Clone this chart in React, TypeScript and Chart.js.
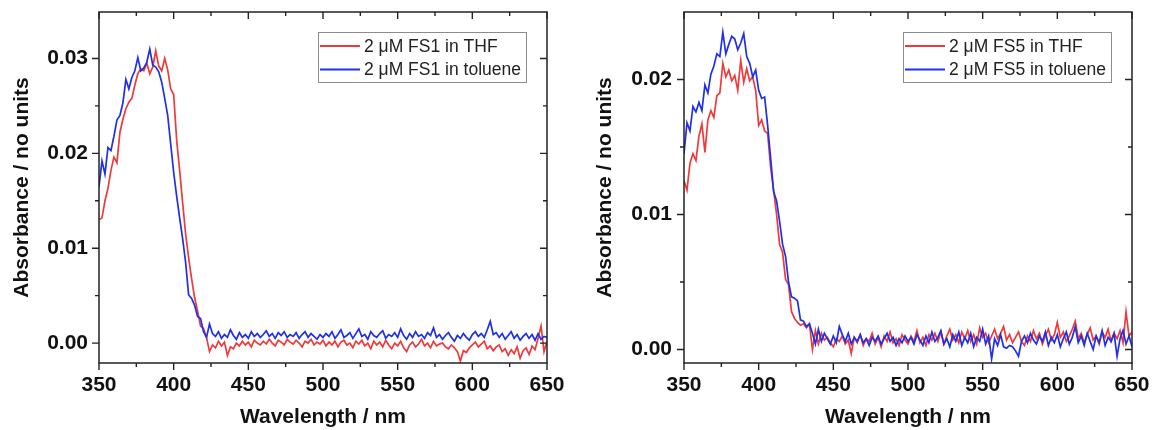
import React, { useEffect, useRef } from 'react';
import { Chart, registerables } from 'chart.js';

Chart.register(...registerables);

const wavelengths = [
  350, 352, 354, 356, 358, 360, 362, 364, 366, 368, 370, 372, 374, 376, 378, 380, 382, 384, 386, 388,
  390, 392, 394, 396, 398, 400, 402, 404, 406, 408, 410, 412, 414, 416, 418, 420, 422, 424, 426, 428,
  430, 432, 434, 436, 438, 440, 442, 444, 446, 448, 450, 452, 454, 456, 458, 460, 462, 464, 466, 468,
  470, 472, 474, 476, 478, 480, 482, 484, 486, 488, 490, 492, 494, 496, 498, 500, 502, 504, 506, 508,
  510, 512, 514, 516, 518, 520, 522, 524, 526, 528, 530, 532, 534, 536, 538, 540, 542, 544, 546, 548,
  550, 552, 554, 556, 558, 560, 562, 564, 566, 568, 570, 572, 574, 576, 578, 580, 582, 584, 586, 588,
  590, 592, 594, 596, 598, 600, 602, 604, 606, 608, 610, 612, 614, 616, 618, 620, 622, 624, 626, 628,
  630, 632, 634, 636, 638, 640, 642, 644, 646, 648, 650,
];

const fs1Thf = [
  0.0130, 0.0132, 0.0150, 0.0163, 0.0182, 0.0196, 0.0190, 0.0222, 0.0236, 0.0247,
  0.0254, 0.0258, 0.0272, 0.0284, 0.0289, 0.0287, 0.0295, 0.0284, 0.0291, 0.0308,
  0.0292, 0.0287, 0.0300, 0.0288, 0.0268, 0.0262, 0.0214, 0.0182, 0.0148, 0.0115,
  0.0090, 0.0068, 0.0048, 0.0034, 0.0018, 0.0015, 0.0006, -0.0009, -0.0002, -0.0005,
  0.0002, -0.0003, 0.0001, -0.0013, -0.0004,
  -0.0006, 0.0000, -0.0003, 0.0002, -0.0002, 0.0001, -0.0004, 0.0003, 0.0000, -0.0002,
  0.0002, -0.0001, 0.0004, 0.0000, -0.0003, 0.0003, 0.0001, -0.0002, 0.0004, 0.0001,
  -0.0001, 0.0003, 0.0000, -0.0004, 0.0002, 0.0000, 0.0004, -0.0002, 0.0001, -0.0001,
  0.0003, -0.0003, 0.0001, -0.0002, 0.0002, -0.0004, 0.0001, 0.0003, -0.0002, 0.0000,
  -0.0005, 0.0002, -0.0001, 0.0003, -0.0003, 0.0000, -0.0006, 0.0002, -0.0002, 0.0001,
  -0.0004, 0.0003, -0.0002, -0.0006, 0.0000, -0.0003, 0.0002, -0.0005, -0.0009, -0.0002,
  0.0001, -0.0004, -0.0001, 0.0004, -0.0003, 0.0000, -0.0005, 0.0002, -0.0003, -0.0001,
  0.0000, -0.0004, -0.0006, -0.0002, -0.0005, -0.0009, -0.0019, -0.0008, -0.0010, -0.0005,
  -0.0002, 0.0001, -0.0004, -0.0001, 0.0002, -0.0006, -0.0003, -0.0008, -0.0004, -0.0002,
  -0.0009, -0.0006, -0.0013, -0.0007, -0.0011, -0.0004, -0.0016, -0.0008, -0.0005, -0.0012,
  -0.0003, -0.0007, 0.0005, 0.0018, -0.0009, 0.0002,
];

const fs1Toluene = [
  0.0165, 0.0192, 0.0178, 0.0206, 0.0203, 0.0218, 0.0235, 0.0240, 0.0253, 0.0278,
  0.0268, 0.0280, 0.0287, 0.0301, 0.0287, 0.0290, 0.0296, 0.0310, 0.0293, 0.0291,
  0.0286, 0.0275, 0.0258, 0.0240, 0.0210, 0.0180, 0.0155, 0.0132, 0.0110, 0.0085,
  0.0051, 0.0047, 0.0040, 0.0028, 0.0026, 0.0012, 0.0006, 0.0020, 0.0010, 0.0007,
  0.0012, 0.0005, 0.0009, 0.0006, 0.0014,
  0.0008, 0.0004, 0.0011, 0.0006, 0.0009, 0.0005, 0.0012, 0.0007, 0.0010, 0.0006,
  0.0009, 0.0013, 0.0007, 0.0010, 0.0005, 0.0011, 0.0008, 0.0012, 0.0006, 0.0009,
  0.0007, 0.0011, 0.0005, 0.0009, 0.0012, 0.0006, 0.0010, 0.0007, 0.0004, 0.0009,
  0.0006, 0.0010, 0.0007, 0.0012, 0.0005, 0.0009, 0.0014, 0.0006, 0.0008, 0.0011,
  0.0005, 0.0010, 0.0015, 0.0007, 0.0009, 0.0004, 0.0012, 0.0008, 0.0006, 0.0010,
  0.0013, 0.0005, 0.0009, 0.0007, 0.0011, 0.0006, 0.0015, 0.0008, 0.0004, 0.0010,
  0.0006, 0.0012, 0.0007, 0.0009, 0.0005, 0.0011, 0.0008, 0.0016, 0.0006, 0.0009,
  0.0004, 0.0008, 0.0011, 0.0006, 0.0002, 0.0008, 0.0005, 0.0010, 0.0006, 0.0003,
  0.0009, 0.0012, 0.0007, 0.0010, 0.0006, 0.0014, 0.0023, 0.0009, 0.0011, 0.0006,
  0.0010, 0.0004, 0.0008, 0.0012, 0.0005, 0.0009, 0.0003, 0.0007, 0.0010, 0.0005,
  0.0009, 0.0003, 0.0010, 0.0004, 0.0007, 0.0006,
];

const fs5Thf = [
  0.0125, 0.0118, 0.0138, 0.0145, 0.0140, 0.0158, 0.0167, 0.0146, 0.0170, 0.0177,
  0.0172, 0.0188, 0.0190, 0.0212, 0.0202, 0.0207, 0.0199, 0.0203, 0.0192, 0.0214,
  0.0198, 0.0208, 0.0199, 0.0202, 0.0192, 0.0166, 0.0170, 0.0162, 0.0160, 0.0135,
  0.0118, 0.0100, 0.0078, 0.0072, 0.0052, 0.0048, 0.0028, 0.0023, 0.0020, 0.0018,
  0.0019, 0.0016, 0.0019, 0.0000, 0.0014,
  0.0004, 0.0012, 0.0007, 0.0009, 0.0005, 0.0002, 0.0008, 0.0006, 0.0010, 0.0004,
  0.0007, -0.0003, 0.0009, 0.0005, 0.0011, 0.0003, 0.0008, 0.0006, 0.0012, 0.0004,
  0.0009, 0.0002, 0.0010, 0.0006, 0.0013, 0.0005, 0.0008, 0.0003, 0.0011, 0.0007,
  0.0004, 0.0010, 0.0006, 0.0014, 0.0005, 0.0009, 0.0003, 0.0011, 0.0007, 0.0012,
  0.0006, 0.0013, 0.0004, 0.0010, 0.0015, 0.0007, 0.0011, 0.0005, 0.0013, 0.0008,
  0.0014, 0.0006, 0.0011, 0.0004, 0.0016, 0.0009, 0.0012, 0.0005, 0.0010, 0.0015,
  0.0008, 0.0012, 0.0017, 0.0007, 0.0011, 0.0005, 0.0009, 0.0013, 0.0006, 0.0003,
  0.0010, 0.0006, 0.0014, 0.0008, 0.0012, 0.0004, 0.0010, 0.0015, 0.0007, 0.0011,
  0.0020, 0.0009, 0.0013, 0.0006, 0.0010, 0.0015, 0.0021, 0.0008, 0.0012, 0.0005,
  0.0011, 0.0016, 0.0007, 0.0010, 0.0004, 0.0013, 0.0009, 0.0015, 0.0006, 0.0012,
  0.0008, 0.0014, 0.0005, 0.0028, 0.0010, 0.0013,
];

const fs5Toluene = [
  0.0145, 0.0168, 0.0162, 0.0180, 0.0176, 0.0183, 0.0177, 0.0196, 0.0190, 0.0204,
  0.0210, 0.0219, 0.0217, 0.0235, 0.0219, 0.0226, 0.0232, 0.0230, 0.0222, 0.0227,
  0.0234, 0.0217, 0.0212, 0.0202, 0.0207, 0.0192, 0.0186, 0.0187, 0.0166, 0.0142,
  0.0117, 0.0110, 0.0095, 0.0078, 0.0069, 0.0050, 0.0039, 0.0038, 0.0036, 0.0022,
  0.0021, 0.0017, 0.0019, 0.0012, 0.0004,
  0.0015, 0.0006, 0.0012, 0.0008, 0.0004, 0.0010, 0.0005, 0.0017, 0.0011, 0.0006,
  0.0012, 0.0004, 0.0009, 0.0006, 0.0011, 0.0005, 0.0008, 0.0003, 0.0009, 0.0006,
  0.0010, 0.0004, 0.0008, 0.0012, 0.0006, 0.0009, 0.0003, 0.0008, 0.0005, 0.0010,
  0.0006, 0.0009, 0.0004, 0.0011, 0.0007, 0.0003, 0.0010, 0.0005, 0.0013, 0.0006,
  0.0009, 0.0014, 0.0004, 0.0008, 0.0002, 0.0011, 0.0006, 0.0013, 0.0003, 0.0009,
  0.0005, 0.0012, 0.0002, 0.0009, 0.0006, 0.0015, 0.0004, 0.0010, -0.0007, 0.0008,
  0.0003, 0.0011, 0.0002, 0.0001, 0.0003, 0.0002, -0.0001, -0.0005, 0.0006, 0.0010,
  0.0005, 0.0012, 0.0007, 0.0004, 0.0010, 0.0006, 0.0013, 0.0003, 0.0009, 0.0005,
  0.0011, 0.0002, 0.0008, 0.0013, 0.0004, 0.0009, 0.0017, 0.0005, 0.0010, 0.0003,
  0.0012, 0.0006, 0.0000, 0.0010, 0.0005, 0.0014, 0.0003, 0.0009, 0.0006, 0.0012,
  -0.0005, 0.0008, 0.0014, 0.0004, 0.0010, 0.0002,
];

const xMajorTicks = [350, 400, 450, 500, 550, 600, 650];
const xMinorTicks = [375, 425, 475, 525, 575, 625];
const fs1YMajorTicks = [0, 0.01, 0.02, 0.03];
const fs1YMinorTicks = [0.005, 0.015, 0.025];
const fs5YMajorTicks = [0, 0.01, 0.02];
const fs5YMinorTicks = [0.005, 0.015];
const fs1Labels = ['2 \u03bcM FS1 in THF', '2 \u03bcM FS1 in toluene'];
const fs5Labels = ['2 \u03bcM FS5 in THF', '2 \u03bcM FS5 in toluene'];
const seriesColors = ['#ee3a3a', '#1f30e6'];
const xTitle = 'Wavelength / nm';
const yTitle = 'Absorbance / no units';

const FONT = '"Liberation Sans", Arial, Helvetica, sans-serif';

const frameTicksPlugin = {
  id: 'frameTicks',
  afterDatasetsDraw(chart: any, _args: any, opts: any) {
    const { ctx, chartArea: a } = chart;
    const xs = chart.scales.x;
    const ys = chart.scales.y;
    ctx.save();
    ctx.strokeStyle = '#222';
    ctx.lineWidth = 1.4;
    ctx.beginPath();
    const seg = (x1: number, y1: number, x2: number, y2: number) => {
      ctx.moveTo(x1, y1);
      ctx.lineTo(x2, y2);
    };
    const xt: [number, number][] = [
      ...xMajorTicks.map((v) => [v, 7] as [number, number]),
      ...xMinorTicks.map((v) => [v, 4] as [number, number]),
    ];
    for (const [v, len] of xt) {
      const px = xs.getPixelForValue(v);
      seg(px, a.bottom, px, a.bottom + len);
      seg(px, a.top, px, a.top + len);
    }
    const yt: [number, number][] = [
      ...opts.yMajor.map((v: number) => [v, 7] as [number, number]),
      ...opts.yMinor.map((v: number) => [v, 4] as [number, number]),
    ];
    for (const [v, len] of yt) {
      const py = ys.getPixelForValue(v);
      seg(a.left - len, py, a.left, py);
      seg(a.right - len, py, a.right, py);
    }
    ctx.stroke();
    ctx.lineWidth = 1.5;
    ctx.strokeRect(a.left, a.top, a.right - a.left, a.bottom - a.top);
    ctx.restore();
  },
};

const boxLegendPlugin = {
  id: 'boxLegend',
  afterDraw(chart: any) {
    const { ctx, chartArea: a } = chart;
    const items = chart.data.datasets;
    ctx.save();
    ctx.font = `17.5px ${FONT}`;
    const textW = Math.max(...items.map((d: any) => ctx.measureText(d.label).width));
    const boxW = Math.round(46 + textW + 5);
    const boxH = 50;
    const bx = Math.round(a.right - 21 - boxW);
    const by = Math.round(a.top + 20);
    ctx.fillStyle = '#fff';
    ctx.fillRect(bx, by, boxW, boxH);
    ctx.strokeStyle = '#8c8c8c';
    ctx.lineWidth = 1;
    ctx.strokeRect(bx + 0.5, by + 0.5, boxW, boxH);
    items.forEach((d: any, i: number) => {
      const cy = by + 14 + i * 23.5;
      ctx.strokeStyle = d.borderColor;
      ctx.lineWidth = 1.8;
      ctx.beginPath();
      ctx.moveTo(bx + 2, cy);
      ctx.lineTo(bx + 42, cy);
      ctx.stroke();
      ctx.fillStyle = '#222';
      ctx.textBaseline = 'middle';
      ctx.textAlign = 'left';
      ctx.fillText(d.label, bx + 46, cy + 1);
    });
    ctx.restore();
  },
};

type PanelProps = {
  thf: number[];
  tol: number[];
  labels: string[];
  yMin: number;
  yMax: number;
  yMajor: number[];
  yMinor: number[];
  yAxisWidth: number;
  yLabelPad: number;
  yTitlePad: number;
  padRight: number;
  width: number;
};

function Panel(p: PanelProps) {
  const ref = useRef<HTMLCanvasElement>(null);
  useEffect(() => {
    const tickFont = { family: FONT, size: 21, weight: 'bold' as const };
    const chart = new Chart(ref.current as HTMLCanvasElement, {
      type: 'line',
      data: {
        datasets: [
          {
            label: p.labels[0],
            data: wavelengths.map((w, i) => ({ x: w, y: p.thf[i] })),
            borderColor: seriesColors[0],
            borderWidth: 1.7,
            pointRadius: 0,
            tension: 0,
            order: 1,
          },
          {
            label: p.labels[1],
            data: wavelengths.map((w, i) => ({ x: w, y: p.tol[i] })),
            borderColor: seriesColors[1],
            borderWidth: 1.7,
            pointRadius: 0,
            tension: 0,
            order: 0,
          },
        ],
      },
      options: {
        responsive: false,
        animation: false,
        devicePixelRatio: 1,
        layout: { padding: { left: 0, right: p.padRight, top: 12, bottom: 0 } },
        plugins: {
          legend: { display: false },
          tooltip: { enabled: false },
          frameTicks: { yMajor: p.yMajor, yMinor: p.yMinor },
        } as any,
        scales: {
          x: {
            type: 'linear',
            min: 350,
            max: 650,
            grid: { display: false, drawTicks: false },
            border: { display: false },
            afterBuildTicks: (s: any) => {
              s.ticks = xMajorTicks.map((v) => ({ value: v }));
            },
            afterFit: (s: any) => {
              s.height = 67;
              s.paddingLeft = 0;
              s.paddingRight = 0;
            },
            ticks: {
              padding: 10,
              color: '#111',
              font: tickFont,
              maxRotation: 0,
              autoSkip: false,
              callback: (v: any) => String(v),
            },
            title: {
              display: true,
              text: xTitle,
              color: '#111',
              font: tickFont,
              padding: { top: 0, bottom: 0 },
            },
          },
          y: {
            type: 'linear',
            min: p.yMin,
            max: p.yMax,
            grid: { display: false, drawTicks: false },
            border: { display: false },
            afterBuildTicks: (s: any) => {
              s.ticks = p.yMajor.map((v) => ({ value: v }));
            },
            afterFit: (s: any) => {
              s.width = p.yAxisWidth;
              s.paddingTop = 0;
              s.paddingBottom = 0;
            },
            ticks: {
              padding: p.yLabelPad,
              color: '#111',
              font: tickFont,
              callback: (v: any) => Number(v).toFixed(2),
            },
            title: {
              display: true,
              text: yTitle,
              color: '#111',
              font: tickFont,
              padding: { top: p.yTitlePad, bottom: 0 },
            },
          },
        },
      },
      plugins: [frameTicksPlugin, boxLegendPlugin],
    });
    return () => chart.destroy();
  }, []);
  return (
    <canvas
      ref={ref}
      width={p.width}
      height={430}
      style={{ width: p.width, height: 430, display: 'block' }}
    />
  );
}

export default function App() {
  return (
    <div
      style={{
        position: 'fixed',
        left: 0,
        top: 0,
        width: 1153,
        height: 430,
        background: '#fff',
        display: 'flex',
      }}
    >
      <Panel
        thf={fs1Thf}
        tol={fs1Toluene}
        labels={fs1Labels}
        yMin={-0.0021}
        yMax={0.0349}
        yMajor={fs1YMajorTicks}
        yMinor={fs1YMinorTicks}
        yAxisWidth={99}
        yLabelPad={11}
        yTitlePad={10}
        padRight={29}
        width={576}
      />
      <Panel
        thf={fs5Thf}
        tol={fs5Toluene}
        labels={fs5Labels}
        yMin={-0.001}
        yMax={0.025}
        yMajor={fs5YMajorTicks}
        yMinor={fs5YMinorTicks}
        yAxisWidth={108}
        yLabelPad={12}
        yTitlePad={17}
        padRight={21}
        width={577}
      />
    </div>
  );
}
